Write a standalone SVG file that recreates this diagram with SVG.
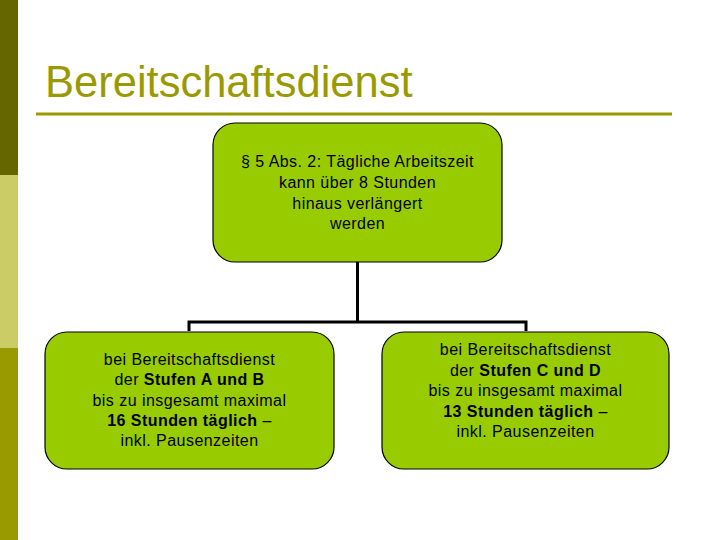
<svg xmlns="http://www.w3.org/2000/svg" width="720" height="540" viewBox="0 0 720 540">
<style>
.box{fill:#99CC00;stroke:#000;stroke-width:1.2}
.t{font-family:"Liberation Sans",Arial,sans-serif;font-size:16px;letter-spacing:0.45px;fill:#000;text-anchor:middle}
.b{font-weight:bold}
.c{fill:none;stroke:#000;stroke-width:3}
</style>
<rect x="0" y="0" width="720" height="540" fill="#fff"/>
<g id="sidebar">
<rect x="0" y="0" width="18" height="175" fill="#666600"/>
<rect x="0" y="175" width="18" height="173" fill="#CCCC66"/>
<rect x="0" y="348" width="18" height="192" fill="#999900"/>
</g>
<g id="title">
<text x="45" y="97" font-family="'Liberation Sans',Arial,sans-serif" font-size="43.5" fill="#999900">Bereitschaftsdienst</text>
<line x1="36" y1="114" x2="672" y2="114" stroke="#999900" stroke-width="3"/>
</g>
<g id="connectors">
<path class="c" d="M357.5 262 V322 M189 331 V322 H526 V331"/>
</g>
<g id="top">
<rect class="box" x="213" y="123" width="289" height="139" rx="22" ry="22"/>
<text class="t" x="357.5" y="167">§ 5 Abs. 2: Tägliche Arbeitszeit</text>
<text class="t" x="357.5" y="188">kann über 8 Stunden</text>
<text class="t" x="357.5" y="208.5">hinaus verlängert</text>
<text class="t" x="357.5" y="229">werden</text>
</g>
<g id="left">
<rect class="box" x="45" y="332" width="289" height="137" rx="22" ry="22"/>
<text class="t" x="189.5" y="364.5">bei Bereitschaftsdienst</text>
<text class="t" x="189.5" y="385">der <tspan class="b">Stufen A und B</tspan></text>
<text class="t" x="189.5" y="405.5">bis zu insgesamt maximal</text>
<text class="t" x="189.5" y="426"><tspan class="b">16 Stunden täglich</tspan> –</text>
<text class="t" x="189.5" y="446">inkl. Pausenzeiten</text>
</g>
<g id="right">
<rect class="box" x="382" y="332" width="287" height="137" rx="22" ry="22"/>
<text class="t" x="525.5" y="355">bei Bereitschaftsdienst</text>
<text class="t" x="525.5" y="375.5">der <tspan class="b">Stufen C und D</tspan></text>
<text class="t" x="525.5" y="396">bis zu insgesamt maximal</text>
<text class="t" x="525.5" y="416.5"><tspan class="b">13 Stunden täglich</tspan> –</text>
<text class="t" x="525.5" y="437">inkl. Pausenzeiten</text>
</g>
</svg>
